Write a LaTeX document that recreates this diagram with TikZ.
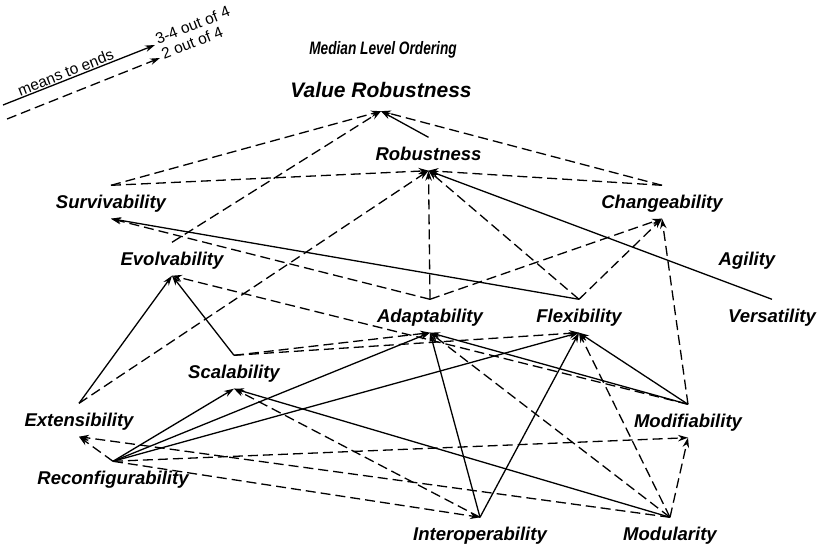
\documentclass[tikz,border=0pt]{standalone}
\usepackage{fontspec}
\setmainfont{Liberation Sans}
\usetikzlibrary{arrows.meta}

\tikzset{
    attr/.style={font=\fontsize{18.5}{20}\selectfont\bfseries\itshape, text height=13pt, text depth=0pt, inner xsep=0pt, inner ysep=10pt},
    strong/.style={-{Stealth[length=10pt,width=6.5pt]}, line width=1.3pt},
    weak/.style={strong, dash pattern=on 10pt off 5pt},
    legendtext/.style={font=\fontsize{15.5}{17}\selectfont, inner sep=1pt}
}

\begin{document}
\begin{tikzpicture}[x=1pt, y=1pt]
    \useasboundingbox (0,0) rectangle (817,550);

    % legend
    \coordinate (solidA) at (3,445);
    \coordinate (solidB) at (155,505);
    \coordinate (dashA) at (7,431);
    \coordinate (dashB) at (160,492);
    \draw[strong] (solidA) -- node[legendtext, sloped, above, pos=0.43] {means to ends} (solidB);
    \draw[weak] (dashA) -- (dashB);
    \node[legendtext, rotate=21.5, anchor=base west] (lgA) at (157,505) {3-4 out of 4};
    \node[legendtext, rotate=21.5, anchor=base west] (lgB) at (163,490) {2 out of 4};

    % titles
    \node[attr, font=\fontsize{18}{20}\selectfont\bfseries\itshape, xscale=0.76] (title) at (383,502) {Median Level Ordering};
    \node[attr, font=\fontsize{21}{23}\selectfont\bfseries\itshape, text height=15pt, inner ysep=13.5pt] (vr) at (381,460) {Value Robustness};

    % attributes
    \node[attr] (rob) at (428.5,396) {Robustness};
    \node[attr] (surv) at (111,348) {Survivability};
    \node[attr] (chg) at (662,348) {Changeability};
    \node[attr] (evol) at (172,291) {Evolvability};
    \node[attr] (agil) at (747,291) {Agility};
    \node[attr] (adap) at (430,234) {Adaptability};
    \node[attr] (flex) at (579,234) {Flexibility};
    \node[attr] (vers) at (772,234) {Versatility};
    \node[attr] (scal) at (234,178) {Scalability};
    \node[attr] (ext) at (79,130) {Extensibility};
    \node[attr] (reconf) at (113,72) {Reconfigurability};
    \node[attr] (modif) at (688,129) {Modifiability};
    \node[attr] (interop) at (480,16) {Interoperability};
    \node[attr] (modul) at (670,16) {Modularity};

    % to value robustness
    \draw[strong] (rob.north) -- (vr.south);
    \draw[weak] (surv.north) -- (vr.south);
    \draw[weak] (evol.north) -- (vr.south);
    \draw[weak] (chg.north) -- (vr.south);

    % to robustness
    \draw[weak] (surv.north) -- (rob.south);
    \draw[weak] (chg.north) -- (rob.south);
    \draw[weak] (ext.north) -- (rob.south);
    \draw[weak] (adap.north) -- (rob.south);
    \draw[weak] (flex.north) -- (rob.south);
    \draw[strong] (vers.north) -- (rob.south);

    % to changeability
    \draw[weak] (adap.north) -- (chg.south);
    \draw[weak] (flex.north) -- (chg.south);
    \draw[weak] (modif.north) -- (chg.south);

    % to survivability
    \draw[strong] (flex.north) -- (surv.south);
    \draw[weak] (adap.north) -- (surv.south);

    % to evolvability
    \draw[strong] (ext.north) -- (evol.south);
    \draw[strong] (scal.north) -- (evol.south);
    \draw[weak] (modif.north) -- (evol.south);

    % to adaptability and flexibility
    \draw[weak] (scal.north) -- (adap.south);
    \draw[weak] (scal.north) -- (flex.south);
    \draw[strong] (reconf.north) -- (adap.south);
    \draw[strong] (reconf.north) -- (flex.south);
    \draw[strong] (interop.north) -- (adap.south);
    \draw[strong] (interop.north) -- (flex.south);
    \draw[weak] (modul.north) -- (adap.south);
    \draw[weak] (modul.north) -- (flex.south);
    \draw[strong] (modif.north) -- (adap.south);
    \draw[strong] (modif.north) -- (flex.south);

    % lower level
    \draw[strong] (reconf.north) -- (scal.south);
    \draw[weak] (reconf.north) -- (ext.south);
    \draw[weak] (reconf.north) -- (modif.south);
    \draw[weak] (reconf.north) -- (interop.north);
    \draw[weak] (interop.north) -- (scal.south);
    \draw[strong] (modul.north) -- (scal.south);
    \draw[weak] (modul.north) -- (modif.south);
    \draw[weak] (modul.north) -- (ext.south);
\end{tikzpicture}
\end{document}
